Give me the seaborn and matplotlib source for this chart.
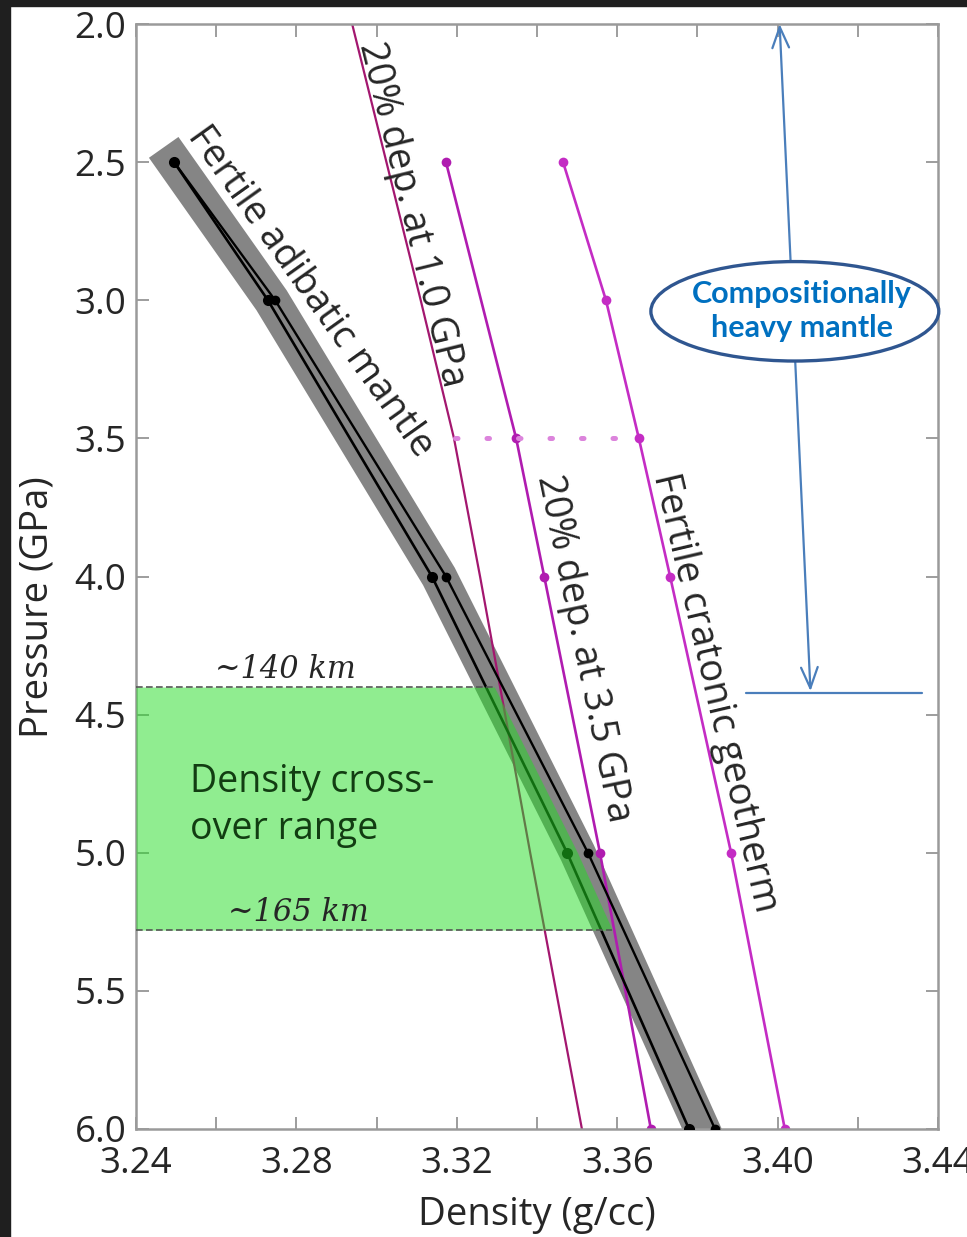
import numpy as np
import seaborn as sns
import matplotlib.pyplot as plt
from matplotlib.patches import Ellipse, Rectangle

# pressure (GPa) / density (g/cc)
P_adiabat = [2.5, 3.0, 4.0, 5.0, 6.0]
rho_adiabat_a = [3.2495, 3.2729, 3.3138, 3.3475, 3.3779]
rho_adiabat_b = [3.2495, 3.2747, 3.3173, 3.3527, 3.3844]

P_dep10 = [2.0, 3.0, 3.5, 4.0, 5.0, 6.0]
rho_dep10 = [3.2939, 3.3110, 3.3193, 3.3258, 3.3383, 3.3512]

P_dep35 = [2.5, 3.5, 4.0, 5.0, 6.0]
rho_dep35 = [3.3173, 3.3348, 3.3418, 3.3557, 3.3684]

P_craton = [2.5, 3.0, 3.5, 4.0, 5.0, 6.0]
rho_craton = [3.3465, 3.3572, 3.3654, 3.3732, 3.3884, 3.4018]

tie_P = 3.5
tie_rho = [3.3196, 3.3655]

crossover_P = [4.4, 5.28]
crossover_km = ['~140 km', '~165 km']

sns.set_style('ticks')
plt.rcParams['font.family'] = ['Open Sans', 'DejaVu Sans']

fig = plt.figure(figsize=(9.67, 12.37), dpi=100)
ax = fig.add_axes([136 / 967, 1 - 1129 / 1237, 802 / 967, 1105 / 1237])

# grey uncertainty band around the adiabat
band = (np.array(rho_adiabat_a) + np.array(rho_adiabat_b)) / 2
sns.lineplot(x=band, y=P_adiabat, sort=False, estimator=None, ax=ax, color='#858585',
             linewidth=26, solid_capstyle='projecting', zorder=1)

sns.lineplot(x=rho_adiabat_a, y=P_adiabat, sort=False, estimator=None, ax=ax, color='black',
             linewidth=1.9, marker='o', markersize=8, markeredgewidth=0, zorder=3)
sns.lineplot(x=rho_adiabat_b, y=P_adiabat, sort=False, estimator=None, ax=ax, color='black',
             linewidth=1.7, marker='o', markersize=7, markeredgewidth=0, zorder=3)

sns.lineplot(x=rho_dep10, y=P_dep10, sort=False, estimator=None, ax=ax, color='#a3176f',
             linewidth=1.6, zorder=2)
sns.lineplot(x=rho_dep35, y=P_dep35, sort=False, estimator=None, ax=ax, color='#b01cb0',
             linewidth=1.9, marker='o', markersize=7, markeredgewidth=0, zorder=2)
sns.lineplot(x=rho_craton, y=P_craton, sort=False, estimator=None, ax=ax, color='#c42cc4',
             linewidth=1.9, marker='o', markersize=7, markeredgewidth=0, zorder=2)

ax.plot(tie_rho, [tie_P, tie_P], color='#dc84dc', linewidth=3.6, linestyle=(0, (0.5, 5.8)),
        dash_capstyle='round', zorder=2)

# density cross-over range
edge = np.interp([crossover_P[0], 5.0, crossover_P[1]], P_adiabat, band)
ax.fill_betweenx([crossover_P[0], 5.0, crossover_P[1]], 3.24, edge, color='#22dd22',
                 alpha=0.5, linewidth=0, zorder=4)
for p, e, lab, dx in zip(crossover_P, [edge[0], edge[-1]], crossover_km, [0.0372, 0.0404]):
    ax.plot([3.24, e], [p, p], color='#555555', linewidth=1.2, linestyle=(0, (4, 2)), zorder=5)
    ax.text(3.24 + dx, p - 0.065, lab, family='DejaVu Serif', style='italic', fontsize=22,
            ha='center', va='center', zorder=6)
ax.text(3.2535, 4.83, 'Density cross-\nover range', fontsize=27, color='#123d12',
        ha='left', va='center', linespacing=1.3, zorder=6)

# curve labels
ax.text(3.2834, 2.97, 'Fertile adibatic mantle', fontsize=27.5, rotation=-54.5,
        rotation_mode='anchor', ha='center', va='center', zorder=6)
ax.text(3.3088, 2.69, '20% dep. at 1.0 GPa', fontsize=27.5, rotation=-76.2,
        rotation_mode='anchor', ha='center', va='center', zorder=6)
ax.text(3.3515, 4.26, '20% dep. at 3.5 GPa', fontsize=27.5, rotation=-78.3,
        rotation_mode='anchor', ha='center', va='center', zorder=6)
ax.text(3.3844, 4.42, 'Fertile cratonic geotherm', fontsize=27.5, rotation=-76.8,
        rotation_mode='anchor', ha='center', va='center', zorder=6)

# compositionally heavy mantle callout
ax.annotate('', xy=(3.4005, 2.0), xytext=(3.4082, 4.415), annotation_clip=False,
            arrowprops=dict(arrowstyle='<->,head_length=0.75,head_width=0.3', color='#4a7ebb',
                            lw=1.6, mutation_scale=20, shrinkA=0, shrinkB=0), zorder=7)
ax.plot([3.3921, 3.4360], [4.42, 4.42], color='#4a7ebb', linewidth=1.6, clip_on=False, zorder=7)
ax.add_patch(Ellipse((3.4043, 3.04), 0.0718, 0.36, facecolor='white', edgecolor='#2f5690',
                     linewidth=2.4, clip_on=False, zorder=8))
ax.text(3.4060, 3.04, 'Compositionally\nheavy mantle', family='Lato', fontweight='bold',
        fontsize=22, color='#0070c0', ha='center', va='center', linespacing=1.25, zorder=9)

ax.set_xlim(3.24, 3.44)
ax.set_ylim(6.0, 2.0)
ax.set_xticks(np.arange(3.24, 3.441, 0.04))
ax.set_xticks(np.arange(3.26, 3.44, 0.04), minor=True)
ax.set_yticks(np.arange(2.0, 6.01, 0.5))
ax.set_xticklabels(['3.24', '3.28', '3.32', '3.36', '3.40', '3.44'])
ax.set_yticklabels([f'{v:.1f}' for v in np.arange(2.0, 6.01, 0.5)])
ax.tick_params(which='both', direction='in', top=True, right=True, length=9, width=1.2,
               color='#8c8c8c', labelsize=26.5)
ax.tick_params(axis='x', pad=12)
ax.tick_params(axis='y', pad=7)
for s in ax.spines.values():
    s.set_color('#9a9a9a')
    s.set_linewidth(1.8)
ax.set_xlabel('Density (g/cc)', fontsize=27.5, labelpad=10)
ax.set_ylabel('Pressure (GPa)', fontsize=27.5)
ax.yaxis.set_label_coords(-0.099, 0.472)

# dark screenshot border
fig.patches.append(Rectangle((0, 0), 10 / 967, 1, transform=fig.transFigure,
                             color='#1f1f1f', zorder=0))
fig.patches.append(Rectangle((0, 1 - 6 / 1237), 1, 6 / 1237, transform=fig.transFigure,
                             color='#1f1f1f', zorder=0))

fig.savefig('out.png', dpi=100)
